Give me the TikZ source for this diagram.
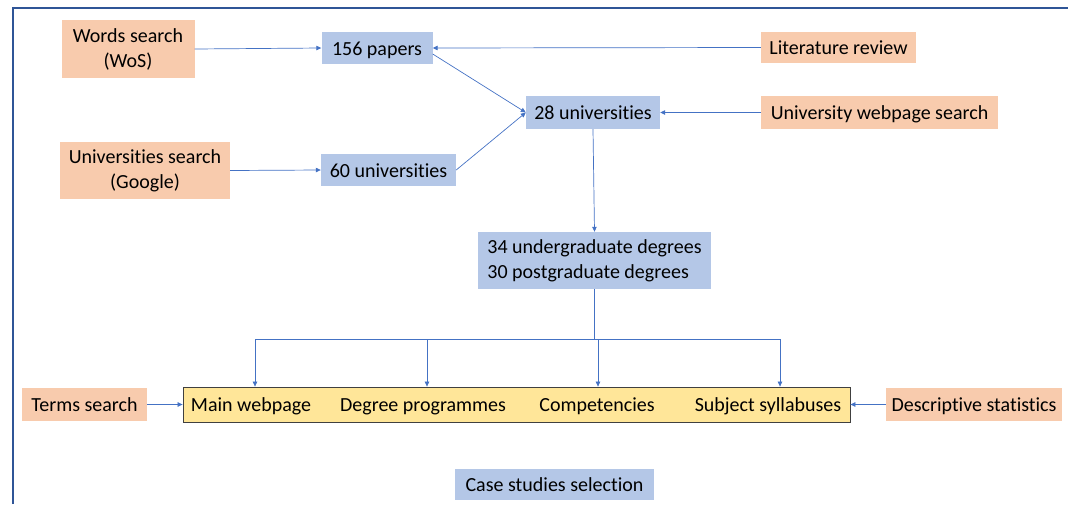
\documentclass[tikz,border=0pt]{standalone}
\usepackage{fontspec}
\setmainfont{Carlito}[Ligatures=NoCommon]
\definecolor{frameblue}{RGB}{47,85,151}
\definecolor{srcorange}{RGB}{248,203,173}
\definecolor{cntblue}{RGB}{180,199,231}
\definecolor{stepyellow}{RGB}{255,230,153}
\definecolor{linkblue}{RGB}{68,114,196}
\usepackage{tikz}
\usetikzlibrary{arrows.meta, positioning}

\begin{document}
\begin{tikzpicture}[x=1pt, y=-1pt, font=\fontsize{20}{25}\selectfont,
    oneline/.style={text height=15pt, text depth=1pt},
    source/.style={fill=srcorange, inner sep=0pt, align=center},
    count/.style={fill=cntblue, inner sep=0pt, align=center},
    link/.style={draw=linkblue, line width=0.7pt, -{Triangle[length=5pt,width=4.5pt]}},
    plain/.style={draw=linkblue, line width=0.7pt}]
  \useasboundingbox (0,0) rectangle (1068,504);
  \draw[frameblue, line width=1.3pt] (13,504) -- (13,8) -- (1068,8);

  % searches and counts
  \node[source, minimum width=133, minimum height=58] (words) at (128,49) {Words search\\(WoS)};
  \node[count, oneline, minimum width=111, minimum height=32] (papers) at (377,48) {156 papers};
  \node[source, oneline, minimum width=155, minimum height=31] (litrev) at (838.5,47.5) {Literature review};
  \node[count, oneline, minimum width=134, minimum height=33] (univ28) at (593,112.5) {28 universities};
  \node[source, oneline, minimum width=237, minimum height=33] (webpage) at (879.5,112.5) {University webpage search};
  \node[source, minimum width=170, minimum height=57] (unisearch) at (145,170.5) {Universities search\\(Google)};
  \node[count, oneline, minimum width=135, minimum height=32] (univ60) at (388.5,170) {60 universities};
  \node[count, minimum width=233, minimum height=57, align=left] (degrees) at (594.5,260.5)
    {34 undergraduate degrees\\30 postgraduate degrees};

  % analysed contents
  \node[draw=black!75, fill=stepyellow, line width=0.8pt, minimum width=667, minimum height=35,
    inner sep=0pt] (contents) at (516.5,404.5) {};
  \node[oneline] (mainweb) at (251,404.5) {Main webpage};
  \node[oneline] (programmes) at (423,404.5) {Degree programmes};
  \node[oneline] (competencies) at (597,404.5) {Competencies};
  \node[oneline] (syllabus) at (768,404.5) {Subject syllabuses};
  \node[source, oneline, minimum width=125, minimum height=33] (terms) at (84.5,404.5) {Terms search};
  \node[source, oneline, minimum width=176, minimum height=33] (descstat) at (974,404.5) {Descriptive statistics};
  \node[count, oneline, minimum width=199, minimum height=31] (cases) at (554.5,484.5) {Case studies selection};

  \draw[link] (words.east) -- (papers.west);
  \draw[link] (litrev.west) -- (papers.east);
  \draw[link] ([yshift=-6pt]papers.east) -- (univ28.west);
  \draw[link] (univ60.east) -- (univ28.west);
  \draw[link] (unisearch.east) -- (univ60.west);
  \draw[link] (webpage.west) -- (univ28.east);
  \draw[link] (univ28.south) -- (degrees.north);

  \coordinate (bus) at ([yshift=-50pt]degrees.south);
  \draw[plain] (degrees.south) -- (bus);
  \draw[plain] ([xshift=4pt]bus -| mainweb) -- ([xshift=12pt]bus -| syllabus);
  \draw[link] ([xshift=4pt]bus -| mainweb) -- ([xshift=4pt]mainweb |- contents.north);
  \draw[link] ([xshift=4pt]bus -| programmes) -- ([xshift=4pt]programmes |- contents.north);
  \draw[link] ([xshift=1pt]bus -| competencies) -- ([xshift=1pt]competencies |- contents.north);
  \draw[link] ([xshift=12pt]bus -| syllabus) -- ([xshift=12pt]syllabus |- contents.north);

  \draw[link] (terms.east) -- (contents.west);
  \draw[link] (descstat.west) -- (contents.east);
\end{tikzpicture}
\end{document}
